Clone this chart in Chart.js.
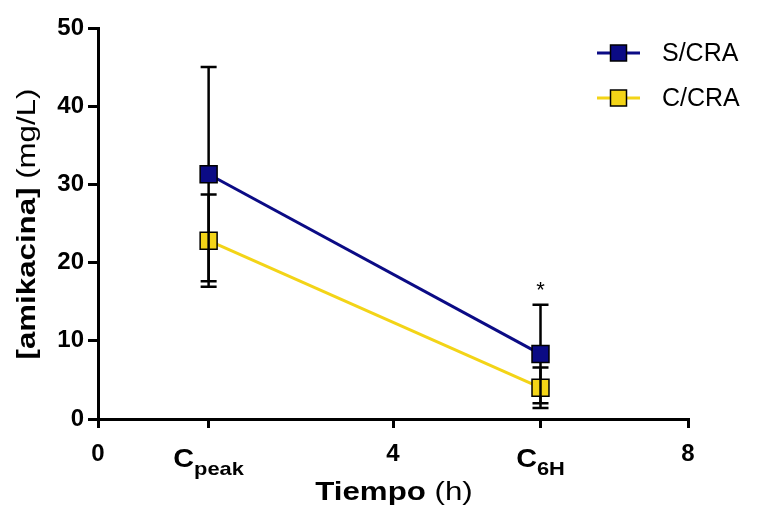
<!DOCTYPE html>
<html>
<head>
<meta charset="utf-8">
<script src="https://cdn.jsdelivr.net/npm/chart.js@4.4.1/dist/chart.umd.min.js"></script>
<style>
  html, body { margin: 0; padding: 0; background: #fff; }
  #wrap { width: 765px; height: 510px; }
</style>
</head>
<body>
<div id="wrap"><canvas id="pkChart" width="765" height="510"></canvas></div>
<script>
// data
const timePoints = [1.5, 6];
const timeLabels = [['C', 'peak'], ['C', '6H']];
const sCra = [31.3, 8.3];
const sCraSd = [13.7, 6.3];
const cCra = [22.8, 4.0];
const cCraSd = [5.9, 2.6];
const xTicks = [0, 1.5, 4, 6, 8];
const starAt = 6;

const navy = '#0b0b85', gold = '#f3d417';
const FONT = '"Liberation Sans", Arial, sans-serif';
const sdByDataset = [sCraSd, cCraSd];
const valsByDataset = [sCra, cCra];

const errorBars = {
  id: 'errorBars',
  // each dataset's bars go under its own markers but over earlier datasets
  beforeDatasetDraw(chart, args) {
    const ctx = chart.ctx, x = chart.scales.x, y = chart.scales.y;
    const vals = valsByDataset[args.index], sds = sdByDataset[args.index];
    ctx.save();
    ctx.strokeStyle = '#000';
    ctx.lineWidth = 2.5;
    vals.forEach((v, i) => {
      const px = x.getPixelForValue(timePoints[i]);
      const top = y.getPixelForValue(v + sds[i]);
      const bot = y.getPixelForValue(v - sds[i]);
      ctx.beginPath();
      ctx.moveTo(px, top); ctx.lineTo(px, bot);
      ctx.moveTo(px - 8, top); ctx.lineTo(px + 8, top);
      ctx.moveTo(px - 8, bot); ctx.lineTo(px + 8, bot);
      ctx.stroke();
    });
    ctx.restore();
  },
  afterDraw(chart) {
    const ctx = chart.ctx, x = chart.scales.x, y = chart.scales.y;
    ctx.save();
    ctx.fillStyle = '#000';
    ctx.textBaseline = 'alphabetic';
    // subscript tick labels, a little wider like the original
    const sx = 1.15;
    timePoints.forEach((t, i) => {
      const px = x.getPixelForValue(t);
      const [main, sub] = timeLabels[i];
      ctx.font = 'bold 25px ' + FONT;
      const w1 = ctx.measureText(main).width;
      ctx.font = 'bold 19px ' + FONT;
      const w2 = ctx.measureText(sub).width;
      ctx.save();
      ctx.translate(px, 0);
      ctx.scale(sx, 1);
      const start = -(w1 + w2) / 2;
      ctx.textAlign = 'left';
      ctx.font = 'bold 25px ' + FONT;
      ctx.fillText(main, start, 467);
      ctx.font = 'bold 19px ' + FONT;
      ctx.fillText(sub, start + w1, 475);
      ctx.restore();
    });
    // significance mark
    const k = timePoints.indexOf(starAt);
    const ax = x.getPixelForValue(starAt);
    const ay = y.getPixelForValue(sCra[k] + sCraSd[k]);
    ctx.font = '22px ' + FONT;
    ctx.textAlign = 'center';
    ctx.fillText('*', ax, ay - 8);
    // axis titles, bold + regular parts, stretched along the text
    const drawMixed = (parts, cx, cy) => {
      let total = 0;
      parts.forEach(p => { ctx.font = p[1] + ' 25px ' + FONT; total += ctx.measureText(p[0]).width; });
      ctx.save();
      ctx.translate(cx, cy);
      ctx.scale(1.25, 1);
      let pos = -total / 2;
      ctx.textAlign = 'left';
      ctx.textBaseline = 'middle';
      parts.forEach(p => {
        ctx.font = p[1] + ' 25px ' + FONT;
        ctx.fillText(p[0], pos, 0);
        pos += ctx.measureText(p[0]).width;
      });
      ctx.restore();
    };
    drawMixed([['Tiempo', 'bold'], [' (h)', 'normal']], 394, 493);
    ctx.save();
    ctx.translate(28, 224);
    ctx.rotate(-Math.PI / 2);
    drawMixed([['[amikacina]', 'bold'], [' (mg/L)', 'normal']], 0, 0);
    ctx.restore();
    // legend
    const rows = [['S/CRA', navy, 53], ['C/CRA', gold, 98]];
    rows.forEach(([label, col, ly]) => {
      ctx.strokeStyle = col;
      ctx.lineWidth = 3;
      ctx.beginPath(); ctx.moveTo(597, ly); ctx.lineTo(640, ly); ctx.stroke();
      ctx.fillStyle = col;
      ctx.fillRect(610.5, ly - 8, 16, 16);
      ctx.strokeStyle = '#000';
      ctx.lineWidth = 1.5;
      ctx.strokeRect(610.5, ly - 8, 16, 16);
      ctx.fillStyle = '#000';
      ctx.font = '25px ' + FONT;
      ctx.textAlign = 'left';
      ctx.textBaseline = 'middle';
      ctx.fillText(label, 662, ly + 1);
    });
    ctx.restore();
  }
};

new Chart(document.getElementById('pkChart').getContext('2d'), {
  type: 'line',
  data: {
    datasets: [{
      label: 'S/CRA',
      data: timePoints.map((t, i) => ({ x: t, y: sCra[i] })),
      borderColor: navy,
      backgroundColor: navy,
      borderWidth: 3,
      pointStyle: 'rect',
      pointRadius: 12,
      pointBorderColor: '#000',
      pointBorderWidth: 1.5,
      order: 1
    }, {
      label: 'C/CRA',
      data: timePoints.map((t, i) => ({ x: t, y: cCra[i] })),
      borderColor: gold,
      backgroundColor: gold,
      borderWidth: 3,
      pointStyle: 'rect',
      pointRadius: 12,
      pointBorderColor: '#000',
      pointBorderWidth: 1.5,
      order: 2
    }]
  },
  options: {
    responsive: false,
    animation: false,
    layout: { padding: { top: 28, right: 77, left: 0, bottom: 0 } },
    plugins: { legend: { display: false }, tooltip: { enabled: false } },
    scales: {
      x: {
        type: 'linear',
        min: 0, max: 8,
        afterBuildTicks: s => { s.ticks = xTicks.map(v => ({ value: v })); },
        afterFit: s => { s.height = 91; },
        border: { color: '#000', width: 3 },
        grid: { drawOnChartArea: false, color: '#000', lineWidth: 3, tickLength: 9 },
        ticks: {
          color: '#000',
          font: { family: FONT, size: 24, weight: 'bold' },
          padding: 12,
          maxRotation: 0,
          callback: v => (timePoints.includes(v) ? '' : String(v))
        }
      },
      y: {
        min: 0, max: 50,
        afterFit: s => { s.width = 98; },
        border: { color: '#000', width: 3 },
        grid: { drawOnChartArea: false, color: '#000', lineWidth: 3, tickLength: 10 },
        ticks: {
          stepSize: 10,
          color: '#000',
          font: { family: FONT, size: 24, weight: 'bold' },
          padding: 4
        }
      }
    }
  },
  plugins: [errorBars]
});
</script>
</body>
</html>
